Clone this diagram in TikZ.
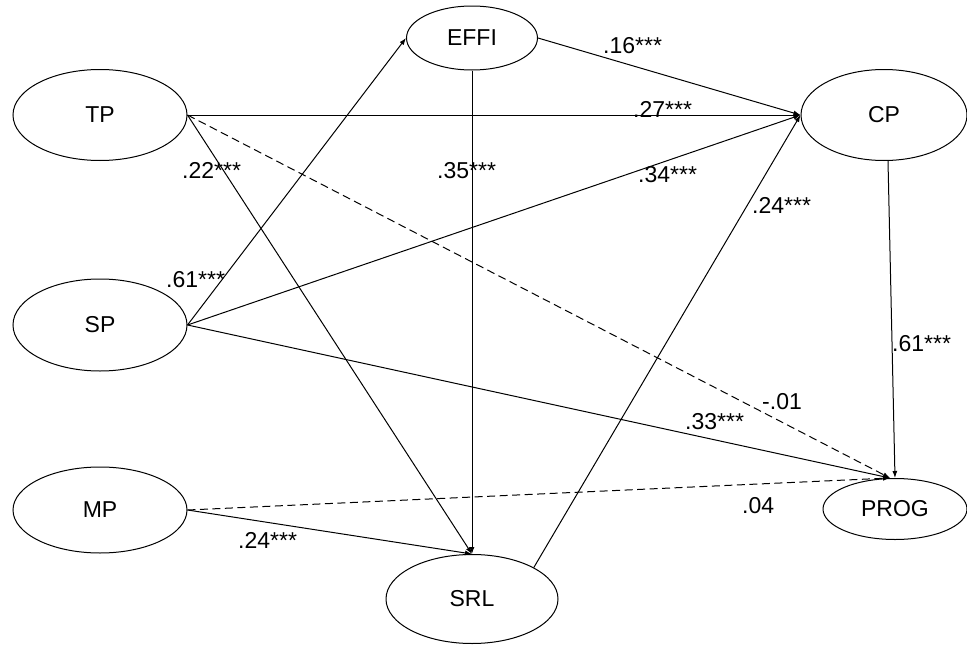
\documentclass[tikz,border=0pt]{standalone}
\usepackage{fontspec}
\setmainfont{Liberation Sans}
\usetikzlibrary{shapes.geometric,arrows.meta}

\begin{document}
\begin{tikzpicture}[x=1pt,y=-1pt,
  latent/.style={ellipse,draw,line width=1pt,inner sep=0pt,
    font=\fontsize{23}{26}\selectfont},
  path/.style={line width=1pt,-{Latex[length=7pt,width=5pt]}},
  nspath/.style={path,dash pattern=on 8pt off 4.5pt},
  coef/.style={anchor=base west,inner sep=0pt,
    font=\fontsize{23}{26}\selectfont}]
\useasboundingbox (0,0) rectangle (967,645);

% latent constructs
\node[latent,minimum width=174pt,minimum height=91pt] (TP)   at (100,115) {TP};
\node[latent,minimum width=174pt,minimum height=92pt] (SP)   at (100,325) {SP};
\node[latent,minimum width=174pt,minimum height=86pt] (MP)   at (100,510) {MP};
\node[latent,minimum width=131pt,minimum height=64pt] (EFFI) at (472,38)  {EFFI};
\node[latent,minimum width=166pt,minimum height=91pt] (CP)   at (884,115) {CP};
\node[latent,minimum width=172pt,minimum height=89pt] (SRL)  at (472,599) {SRL};
\node[latent,minimum width=144pt,minimum height=61pt] (PROG) at (895,509) {PROG};

% shared entry points
\coordinate (progIn) at ([xshift=-5pt]PROG.north);
\coordinate (cpOut)  at ([xshift=4pt]CP.south);

% structural paths
\draw[path]   (TP.east)   -- (CP.west);
\draw[nspath] (TP.east)   -- (progIn);
\draw[path]   (TP.east)   -- (SRL.north);
\draw[path]   (SP.east)   -- (EFFI.west);
\draw[path]   (SP.east)   -- (CP.west);
\draw[path]   (SP.east)   -- (progIn);
\draw[nspath] (MP.east)   -- (progIn);
\draw[path]   (MP.east)   -- (SRL.north);
\draw[path]   (EFFI.east) -- (CP.west);
\draw[path]   (EFFI.south)-- (SRL.north);
\draw[path]   (SRL.27)    -- (CP.west);
\draw[path]   (cpOut)     -- (PROG.north);

% path coefficients
\node[coef] (c1)  at (603,53)  {.16***};
\node[coef] (c2)  at (633,117) {.27***};
\node[coef] (c3)  at (182,178) {.22***};
\node[coef] (c4)  at (437,178) {.35***};
\node[coef] (c5)  at (638,182) {.34***};
\node[coef] (c6)  at (752,213) {.24***};
\node[coef] (c7)  at (166,287) {.61***};
\node[coef] (c8)  at (892,351) {.61***};
\node[coef] (c9)  at (762,409) {-.01};
\node[coef] (c10) at (685,429) {.33***};
\node[coef] (c11) at (742,513) {.04};
\node[coef] (c12) at (238,548) {.24***};
\end{tikzpicture}
\end{document}
